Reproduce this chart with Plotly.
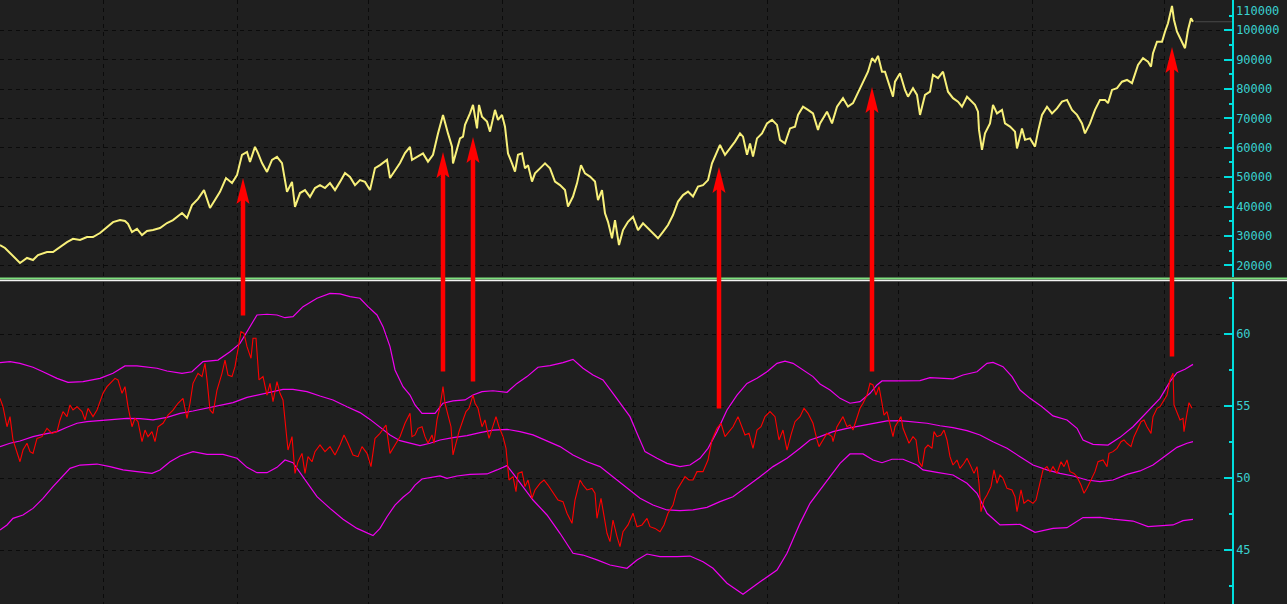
import plotly.graph_objects as go

# ---------------- data ----------------
price_day = [0,5,10,15,20,27,33,38,47,53,60,67,73,80,87,93,100,107,113,120,125,128,132,137,142,147,153,160,167,173,
             182,187,192,198,204,210,215,220,226,232,237,242,247,250,255,258,262,267,272,277,282,287,292,295,300,305,310,315,320,325,
             330,335,340,345,350,355,360,365,370,375,380,387,390,395,400,405,410,
             412,417,423,428,433,438,443,448,452,453,457,460,463,465,470,473,477,479,482,487,490,495,498,502,505,508,512,515,518,522,
             525,528,532,535,540,545,550,555,560,565,568,573,577,581,585,590,595,598,602,605,608,612,615,619,623,628,633,638,643,648,
             653,658,663,668,673,678,683,688,693,698,703,708,712,715,720,725,730,735,740,743,747,750,753,757,762,767,772,777,780,785,
             790,795,798,803,808,813,818,
             820,823,827,832,837,843,848,853,858,863,868,872,875,878,882,885,888,893,895,900,905,908,913,917,920,925,930,933,938,943,
             948,953,958,962,967,972,975,978,979,982,985,990,993,997,1002,1005,1010,1015,1017,1022,1025,1030,1035,1038,1042,1047,1052,1057,1062,1067,
             1072,1077,1082,1085,1090,1095,1100,1105,1108,1112,1117,1122,1127,1132,1135,1138,1143,1148,1151,1153,1157,1162,1165,1168,1172,1174,1177,1180,1183,1185,
             1188,1191,1193]
price_val = [26900,25900,24200,22500,20800,22500,21800,23500,24500,24500,26200,27900,29000,28600,29600,29600,31000,33000,34700,35400,
             35100,34100,31300,32400,30300,31700,32000,32700,34400,35400,37800,36100,40500,42600,45600,39500,42200,45000,49700,48000,
             50700,57600,58600,55200,60300,58200,54800,51800,55900,56900,54800,45000,48400,39900,44600,45600,43300,46300,47300,46300,
             48000,45600,48400,51400,50100,47300,49000,48400,45600,53100,54100,55900,49700,52400,54800,58200,60300,
             55900,57000,58100,55300,57600,64900,71200,64900,60400,54700,59300,63200,63800,67800,71700,74600,66600,74600,70600,68900,
             65500,72900,69500,71200,67200,58100,54700,51900,57600,58100,53000,54100,48500,51300,53000,54700,53000,48500,47300,45600,
             40000,43400,47900,54100,51300,50200,48500,42200,45600,37700,34800,29200,35400,26900,32000,34800,36500,32000,34300,32600,
             30900,29200,31400,33700,37100,41700,43900,45100,43400,46800,47300,49000,54700,57000,61000,57600,59800,62100,64900,63800,
             57600,61500,57000,63200,64900,68300,69500,67800,62700,61500,66600,67200,71200,74000,72900,71700,66100,
             68300,70000,72300,68300,74000,76900,74000,75200,78600,82500,85900,90500,89300,91300,85900,85900,82500,77400,82500,85400,
             79700,77400,80300,78000,71200,78000,79100,84800,83700,85900,79100,76900,75700,74000,77400,75700,74600,72300,66100,59300,
             64900,68300,74600,71700,72900,68300,67200,65500,59800,66600,62700,63200,60400,65500,71200,74000,71700,73400,75700,76300,
             72900,71200,68300,64900,68300,72900,76300,76300,75200,79700,80300,82500,83100,82000,84800,88200,90500,89300,87600,92200,
             96100,96100,99500,102400,108300,103500,99500,97300,95600,93900,100100,104100,102900]

rsi_day = [0,3,7,10,13,17,20,23,27,30,33,37,42,47,52,57,60,63,67,70,73,77,82,85,88,93,97,100,103,107,
           112,115,118,122,125,128,132,135,138,142,145,148,152,155,158,163,168,173,178,183,187,190,193,198,202,205,207,210,213,217,
           222,225,228,232,235,238,241,244,247,251,253,256,259,263,267,270,273,277,280,283,286,288,292,295,298,302,305,308,312,315,
           320,325,330,335,340,344,348,353,358,362,367,371,375,380,386,390,395,400,405,410,
           412,415,418,422,425,428,432,434,437,440,443,445,448,451,453,456,459,463,466,469,473,475,478,482,485,489,493,496,499,503,
           506,509,513,516,518,522,525,528,532,535,540,544,548,553,558,563,567,572,575,580,583,587,592,595,597,601,604,607,610,613,
           617,620,623,628,633,637,642,647,650,655,660,664,668,673,677,681,685,689,693,697,703,708,712,717,721,725,729,733,738,742,
           745,749,753,757,761,765,770,775,779,783,787,791,795,800,804,808,813,817,819,
           823,827,832,833,837,840,843,847,850,853,857,860,863,867,870,873,876,879,882,884,887,890,893,895,898,901,903,906,909,913,
           916,919,922,925,928,932,934,937,941,944,947,950,953,957,960,964,967,971,974,977,979,981,984,987,991,994,997,1000,1003,1007,
           1012,1015,1017,1021,1024,1028,1033,1036,1039,1043,1047,1050,1053,1057,1061,1064,1067,1070,1074,1077,
           1081,1084,1087,1092,1095,1098,1103,1107,1109,1113,1117,1121,1124,1127,1131,1134,1137,1141,1144,1147,
           1151,1153,1157,1160,1163,1167,1170,1173,1174,1177,1180,1183,1184,1187,1189,1192]
rsi_val = [55.55,54.97,53.58,54.28,52.66,51.73,51.15,51.96,52.43,51.85,51.73,52.77,52.89,53.47,53.12,53.24,54.05,54.63,54.28,55.09,
           54.74,54.97,54.63,54.05,54.86,54.28,54.74,55.32,55.90,56.36,56.71,56.94,56.83,55.90,56.36,54.97,53.58,54.16,53.93,52.54,
           53.35,52.89,53.24,52.54,53.58,53.82,54.39,54.74,55.21,55.55,54.16,55.21,56.59,57.29,57.06,57.98,56.83,54.74,54.51,56.13,
           57.29,58.21,57.17,57.06,57.75,59.14,60.18,60.07,59.14,58.33,59.72,59.72,56.83,57.06,55.78,56.59,55.32,56.71,55.90,55.44,
           53.12,51.96,52.89,50.34,51.15,51.73,50.34,51.50,51.15,51.85,52.31,51.85,52.20,51.62,52.31,53.01,52.43,51.62,51.50,52.20,
           51.73,50.81,52.77,53.12,53.70,51.73,52.31,52.89,53.82,54.51,
           52.89,53.01,53.47,53.58,52.89,52.43,53.01,52.43,54.05,54.97,56.36,55.21,54.39,53.58,51.62,52.43,53.24,54.05,54.63,54.86,
           55.78,55.21,54.86,53.58,54.05,52.77,53.58,54.28,53.58,52.89,52.08,49.88,50.11,49.07,50.34,50.46,49.42,49.88,48.61,49.19,
           49.65,49.88,49.53,48.96,48.49,48.38,47.57,46.87,48.49,49.88,49.53,49.19,49.30,48.96,47.22,48.61,47.22,46.18,45.60,47.10,
           45.95,45.25,46.29,46.76,47.57,46.64,46.76,47.22,46.64,46.52,46.29,46.76,47.57,48.14,49.19,49.65,50.11,49.88,49.88,50.46,
           50.46,51.27,52.66,53.47,53.82,52.89,53.24,53.58,54.28,53.58,53.01,53.12,52.08,53.35,53.58,54.28,54.63,54.28,52.66,53.35,
           51.96,53.01,53.93,54.28,54.86,54.51,53.82,52.66,52.20,
           52.66,53.12,52.89,52.54,53.58,53.93,54.28,53.58,53.70,53.35,54.16,54.86,55.21,55.78,56.59,56.48,55.78,56.36,55.21,54.39,
           54.63,53.82,52.89,53.58,53.93,54.28,53.47,52.89,52.43,52.89,52.66,51.15,50.81,52.08,52.31,52.08,53.24,52.89,53.01,53.35,
           52.66,51.50,50.92,51.27,50.69,51.04,51.39,50.81,50.34,50.81,49.65,47.68,48.49,48.84,49.42,50.58,49.65,50.23,50.00,49.30,
           49.19,48.72,47.68,49.19,48.26,48.49,48.26,48.49,49.42,50.58,50.81,50.46,50.81,50.34,51.15,50.81,51.27,50.46,50.34,50.11,
           49.53,48.96,49.30,50.00,50.46,51.15,51.27,50.81,51.73,51.85,52.08,52.54,52.66,52.43,52.20,52.89,53.35,53.93,54.05,53.58,
           53.12,54.28,54.86,54.97,55.32,55.78,56.83,57.29,55.09,54.63,54.05,54.16,53.24,54.51,55.25,54.86]

upper_day = [0,10,20,33,43,57,68,83,100,113,125,137,157,167,182,192,203,218,230,240,248,257,267,277,285,293,303,317,330,340,
             350,360,368,377,383,390,395,403,
             410,415,422,435,443,453,465,473,482,493,507,517,527,538,550,563,573,583,593,603,613,623,630,637,645,657,667,680,690,700,
             708,717,727,737,747,757,767,777,785,793,803,813,
             820,830,840,850,860,870,877,882,897,920,930,940,953,963,977,987,993,1003,1012,1020,1030,1042,1053,1067,1077,1083,1093,1108,1120,1133,
             1147,1160,1170,1177,1185,1193]
upper_val = [58.03,58.10,57.98,57.71,57.40,56.94,56.66,56.71,56.94,57.29,57.80,57.80,57.64,57.45,57.29,57.40,58.10,58.21,58.79,59.37,
             60.30,61.34,61.39,61.34,61.15,61.22,61.92,62.50,62.84,62.80,62.61,62.50,61.92,61.34,60.53,59.14,57.52,56.36,
             55.78,55.09,54.51,54.51,55.21,55.37,55.44,55.78,56.02,56.08,55.97,56.59,57.06,57.71,57.82,58.03,58.26,57.64,57.17,56.83,
             55.90,54.97,54.28,53.12,51.85,51.39,51.04,50.81,50.92,51.39,52.08,53.24,54.74,55.78,56.59,56.94,57.40,57.98,58.14,57.98,
             57.52,57.06,
             56.55,56.13,55.55,55.21,55.32,55.90,56.48,56.76,56.76,56.78,56.99,56.94,56.90,57.17,57.40,57.98,58.05,57.75,57.06,56.13,
             55.55,54.97,54.33,54.05,53.47,52.66,52.36,52.31,52.84,53.58,54.63,55.55,56.71,57.33,57.57,57.91]

mid_day = [0,10,20,33,43,57,67,77,87,100,113,127,140,153,167,180,193,207,220,233,247,260,273,283,293,307,320,333,347,360,
           370,380,390,400,
           410,420,430,440,453,467,480,493,507,520,533,547,560,573,587,600,613,627,640,653,667,680,693,707,720,733,747,760,773,787,
           800,810,
           820,833,847,860,873,887,900,913,927,940,953,967,980,993,1007,1020,1033,1047,1060,1073,1087,1100,1113,1127,1140,1153,1167,1177,1187,1193]
mid_val = [52.20,52.43,52.59,52.89,53.05,53.24,53.54,53.82,53.93,54.00,54.09,54.16,54.14,54.05,54.23,54.51,54.67,54.86,55.04,55.25,
           55.62,55.83,56.02,56.18,56.18,56.02,55.71,55.44,54.97,54.56,54.09,53.58,53.01,52.61,
           52.43,52.27,52.43,52.66,52.82,52.96,53.17,53.35,53.40,53.24,53.01,52.61,52.20,51.62,51.15,50.81,50.11,49.30,48.61,48.14,
           47.80,47.75,47.80,47.98,48.38,48.72,49.42,50.11,50.81,51.39,52.08,52.66,
           52.89,53.24,53.47,53.63,53.82,53.98,54.00,53.93,53.82,53.65,53.52,53.31,53.01,52.54,52.08,51.50,50.92,50.58,50.34,50.16,
           49.88,49.77,49.88,50.27,50.51,50.92,51.62,52.15,52.43,52.54]

lower_day = [0,7,13,23,33,43,53,62,70,80,97,110,123,137,152,160,170,180,193,207,223,237,247,257,267,277,285,293,303,317,
             330,343,357,367,373,380,387,395,403,
             410,415,422,432,440,447,457,470,487,497,507,513,523,533,547,560,573,583,597,610,627,637,647,660,677,690,703,713,727,743,
             757,767,777,787,800,810,
             820,830,840,850,863,873,882,892,903,917,923,937,953,967,977,987,1000,1020,1035,1053,1067,1083,1100,1113,1133,1148,1163,1173,1183,1193]
lower_val = [46.41,46.76,47.22,47.45,47.91,48.61,49.42,50.07,50.69,50.92,50.99,50.81,50.58,50.46,50.34,50.58,51.15,51.55,51.85,51.66,
             51.66,51.39,50.76,50.39,50.39,50.76,51.27,51.08,50.11,48.72,47.91,47.15,46.52,46.22,46.02,46.52,47.33,48.14,48.68,
             49.07,49.53,49.95,50.04,50.16,50.00,50.16,50.27,50.30,50.58,50.88,50.34,49.42,48.49,47.45,46.18,44.79,44.67,44.33,43.98,
             43.75,44.33,44.74,44.56,44.56,44.60,44.21,43.75,42.71,41.94,42.66,43.17,43.63,44.79,46.87,48.26,
             49.19,50.11,51.04,51.69,51.69,51.27,51.08,51.32,51.32,50.92,50.58,50.41,50.23,49.65,48.96,47.57,46.76,46.80,46.25,46.52,
             46.57,47.27,47.29,47.17,47.03,46.64,46.69,46.76,47.06,47.15]

signal_day = [243, 443, 473, 719, 872, 1172]
signal_price = [49700, 58600, 63700, 53500, 80700, 94300]   # arrow tip (price scale)
signal_rsi = [61.20, 57.31, 56.62, 54.74, 57.31, 58.35]      # arrow tail (indicator scale)

grid_days = [103, 237, 368, 502, 633, 767, 898, 1032, 1164]
top_edge_label = 110000

# ---------------- layout constants ----------------
W, H = 1287, 604
R_MARGIN = 55
PLOT_W = W - R_MARGIN
TOP_H = 277
BOT_TOP = 282
price_range = [16020, 110310]
rsi_range = [41.27, 63.63]

BG = "#1f1f1f"
GRID = "#0b0b0b"
CYAN = "#00dede"
CYAN_TXT = "#3ad0d0"
YELLOW = "#f8f07a"
MAGENTA = "#f000f0"
RED = "#ff0000"
FONT = dict(family="DejaVu Sans Mono", size=12, color=CYAN_TXT)

ppx = (price_range[1] - price_range[0]) / TOP_H


def py_top(v):
    return (price_range[1] - v) / ppx


def py_bot(v):
    return BOT_TOP + (rsi_range[1] - v) / (rsi_range[1] - rsi_range[0]) * (H - BOT_TOP)


fig = go.Figure()
for d, v in [(upper_day, upper_val), (mid_day, mid_val), (lower_day, lower_val)]:
    fig.add_trace(go.Scatter(x=d, y=v, xaxis="x", yaxis="y2", mode="lines",
                             line=dict(color=MAGENTA, width=1.2), hoverinfo="skip"))
fig.add_trace(go.Scatter(x=rsi_day, y=rsi_val, xaxis="x", yaxis="y2", mode="lines",
                         line=dict(color=RED, width=1.1), hoverinfo="skip"))
fig.add_trace(go.Scatter(x=price_day, y=price_val, xaxis="x", yaxis="y", mode="lines",
                         line=dict(color=YELLOW, width=2), hoverinfo="skip"))

axis_common = dict(
    side="right", anchor="x", showline=True, linecolor=CYAN, linewidth=1.5,
    ticks="inside", ticklen=8, tickwidth=1.5, tickcolor=CYAN,
    tickfont=FONT,
    showgrid=True, gridcolor=GRID, griddash="4px,4px", gridwidth=1,
    zeroline=False, fixedrange=True, tickmode="linear", tick0=0, automargin=False,
)

shapes = [
    dict(type="line", xref="paper", yref="paper", x0=0, x1=W / PLOT_W,
         y0=1 - 278.5 / H, y1=1 - 278.5 / H, line=dict(color="#7ee07e", width=2)),
    dict(type="line", xref="paper", yref="paper", x0=0, x1=W / PLOT_W,
         y0=1 - 280.6 / H, y1=1 - 280.6 / H, line=dict(color="#f2f2f2", width=1.5)),
    dict(type="line", xref="x", yref="y", x0=price_day[-1] + 2, x1=PLOT_W,
         y0=price_val[-1], y1=price_val[-1], line=dict(color="#4a4a4a", width=1)),
]

annotations = [
    # top-edge tick label, nudged down so it stays fully on the page
    dict(x=1, xref="paper", xanchor="left", xshift=3, y=top_edge_label, yref="y",
         yanchor="top", yshift=-2, text=str(top_edge_label), showarrow=False, font=FONT,
         borderpad=0),
]
HEAD_H, HEAD_W, NOTCH = 26, 13, 5
for d, tp, tr in zip(signal_day, signal_price, signal_rsi):
    base_v = tp - HEAD_H * ppx
    notch_v = tp - (HEAD_H - NOTCH) * ppx
    shapes.append(dict(
        type="path", xref="x", yref="y",
        path=f"M {d - HEAD_W / 2},{base_v} L {d},{tp} L {d + HEAD_W / 2},{base_v} L {d},{notch_v} Z",
        fillcolor=RED, line=dict(width=0), layer="above"))
    shaft_top_v = tp - (HEAD_H - 8) * ppx
    shaft_top_px = py_top(shaft_top_v)
    annotations.append(dict(
        x=d, y=shaft_top_v, xref="x", yref="y", ax=0, ay=py_bot(tr) - shaft_top_px,
        axref="pixel", ayref="pixel", showarrow=True, arrowhead=0, arrowwidth=4.5,
        arrowcolor=RED, text="", standoff=0, startstandoff=0))

fig.update_layout(
    width=W, height=H,
    margin=dict(l=0, r=R_MARGIN, t=0, b=0),
    paper_bgcolor=BG, plot_bgcolor=BG,
    showlegend=False,
    xaxis=dict(range=[0, PLOT_W], showticklabels=False, ticks="", tickmode="array",
               tickvals=grid_days, showgrid=True, gridcolor=GRID, griddash="4px,4px",
               gridwidth=1, zeroline=False, showline=False, fixedrange=True, anchor="y2",
               automargin=False),
    yaxis=dict(**axis_common, domain=[1 - TOP_H / H, 1], range=price_range, dtick=10000,
               tickformat="d",
               minor=dict(dtick=5000, ticks="inside", ticklen=3, tickcolor=CYAN,
                          tickwidth=1.5, showgrid=False)),
    yaxis2=dict(**axis_common, domain=[0, 1 - BOT_TOP / H], range=rsi_range, dtick=5,
                minor=dict(dtick=2.5, ticks="inside", ticklen=3, tickcolor=CYAN,
                           tickwidth=1.5, showgrid=False)),
    shapes=shapes,
    annotations=annotations,
)

fig.write_html(
    "out.html",
    config={"displayModeBar": False},
    post_script="document.body.style.margin='0px';document.body.style.background='#1f1f1f';document.body.style.overflow='hidden';",
)
